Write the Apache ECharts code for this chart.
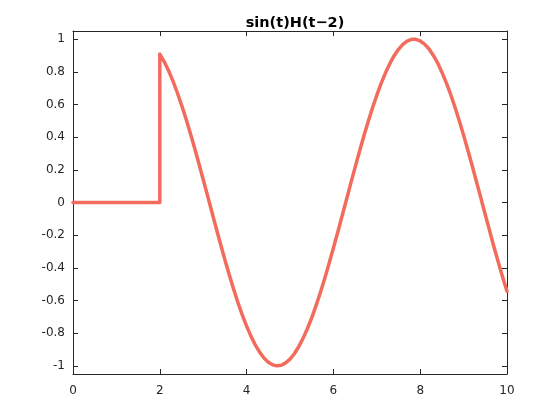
<!DOCTYPE html>
<html><head><meta charset="utf-8">
<script src="https://cdn.jsdelivr.net/npm/echarts@6/dist/echarts.min.js"></script>
<style>html,body{margin:0;padding:0;background:#fff}#c{width:560px;height:420px}</style>
</head><body><div id="c"></div>
<script>
var title = 'sin(t)H(t\u22122)';
var tValues = [0, 2, 2, 2.1, 2.2, 2.3, 2.4, 2.5, 2.6, 2.7, 2.8, 2.9, 3.0, 3.1, 3.2, 3.3, 3.4, 3.5, 3.6, 3.7, 3.8, 3.9, 4.0, 4.1, 4.2, 4.3, 4.4, 4.5, 4.6, 4.7, 4.8, 4.9, 5.0, 5.1, 5.2, 5.3, 5.4, 5.5, 5.6, 5.7, 5.8, 5.9, 6.0, 6.1, 6.2, 6.3, 6.4, 6.5, 6.6, 6.7, 6.8, 6.9, 7.0, 7.1, 7.2, 7.3, 7.4, 7.5, 7.6, 7.7, 7.8, 7.9, 8.0, 8.1, 8.2, 8.3, 8.4, 8.5, 8.6, 8.7, 8.8, 8.9, 9.0, 9.1, 9.2, 9.3, 9.4, 9.5, 9.6, 9.7, 9.8, 9.9, 10.0];
var yValues = [0, 0, 0.909, 0.863, 0.808, 0.746, 0.675, 0.598, 0.516, 0.427, 0.335, 0.239, 0.141, 0.042, -0.058, -0.158, -0.256, -0.351, -0.443, -0.530, -0.612, -0.688, -0.757, -0.818, -0.872, -0.916, -0.952, -0.978, -0.994, -1.000, -0.996, -0.982, -0.959, -0.926, -0.883, -0.832, -0.773, -0.706, -0.631, -0.551, -0.465, -0.374, -0.279, -0.182, -0.083, 0.017, 0.117, 0.215, 0.312, 0.405, 0.494, 0.578, 0.657, 0.729, 0.794, 0.850, 0.899, 0.938, 0.968, 0.988, 0.999, 0.999, 0.989, 0.970, 0.941, 0.902, 0.855, 0.798, 0.734, 0.663, 0.585, 0.501, 0.412, 0.319, 0.223, 0.124, 0.025, -0.075, -0.174, -0.272, -0.366, -0.458, -0.544];
var xTicks = [0, 2, 4, 6, 8, 10];
var yTicks = [-1, -0.8, -0.6, -0.4, -0.2, 0, 0.2, 0.4, 0.6, 0.8, 1];

var data = tValues.map(function (t, i) { return [t, yValues[i]]; });
var axisColor = '#262626';
var font = 'DejaVu Sans';
function yLabel(v) { return v === 0 ? '0' : String(Number(v.toFixed(1))); }

var chart = echarts.init(document.getElementById('c'), null, {renderer: 'canvas'});
chart.setOption({
  animation: false,
  title: {text: title, left: 290, textAlign: 'center', top: 11,
    textStyle: {fontFamily: font, fontSize: 14.5, fontWeight: 'bold', color: '#000'}},
  grid: {left: 73, right: 53, top: 31, bottom: 46, containLabel: false},
  xAxis: [
    {type: 'value', min: 0, max: 10, position: 'bottom',
      axisLine: {show: true, onZero: false, lineStyle: {color: axisColor, width: 1}},
      axisTick: {show: true, inside: true, length: 5, customValues: xTicks, lineStyle: {color: axisColor}},
      axisLabel: {customValues: xTicks, color: axisColor, fontFamily: font, fontSize: 12, margin: 11},
      splitLine: {show: false}},
    {type: 'value', min: 0, max: 10, position: 'top',
      axisLine: {show: true, onZero: false, lineStyle: {color: axisColor, width: 1}},
      axisTick: {show: true, inside: true, length: 5, customValues: xTicks, lineStyle: {color: axisColor}},
      axisLabel: {show: false}, splitLine: {show: false}}
  ],
  yAxis: [
    {type: 'value', min: -1.05, max: 1.05, position: 'left',
      axisLine: {show: true, onZero: false, lineStyle: {color: axisColor, width: 1}},
      axisTick: {show: true, inside: true, length: 5, customValues: yTicks, lineStyle: {color: axisColor}},
      axisLabel: {customValues: yTicks, formatter: yLabel, color: axisColor, fontFamily: font, fontSize: 12, margin: 8},
      splitLine: {show: false}},
    {type: 'value', min: -1.05, max: 1.05, position: 'right',
      axisLine: {show: true, onZero: false, lineStyle: {color: axisColor, width: 1}},
      axisTick: {show: true, inside: true, length: 5, customValues: yTicks, lineStyle: {color: axisColor}},
      axisLabel: {show: false}, splitLine: {show: false}}
  ],
  series: [{
    type: 'line', data: data, xAxisIndex: 0, yAxisIndex: 0,
    showSymbol: false, symbol: 'none', smooth: false,
    lineStyle: {color: '#f26b5c', width: 3.5, join: 'round', cap: 'round'},
    clip: true
  }]
});
</script></body></html>
